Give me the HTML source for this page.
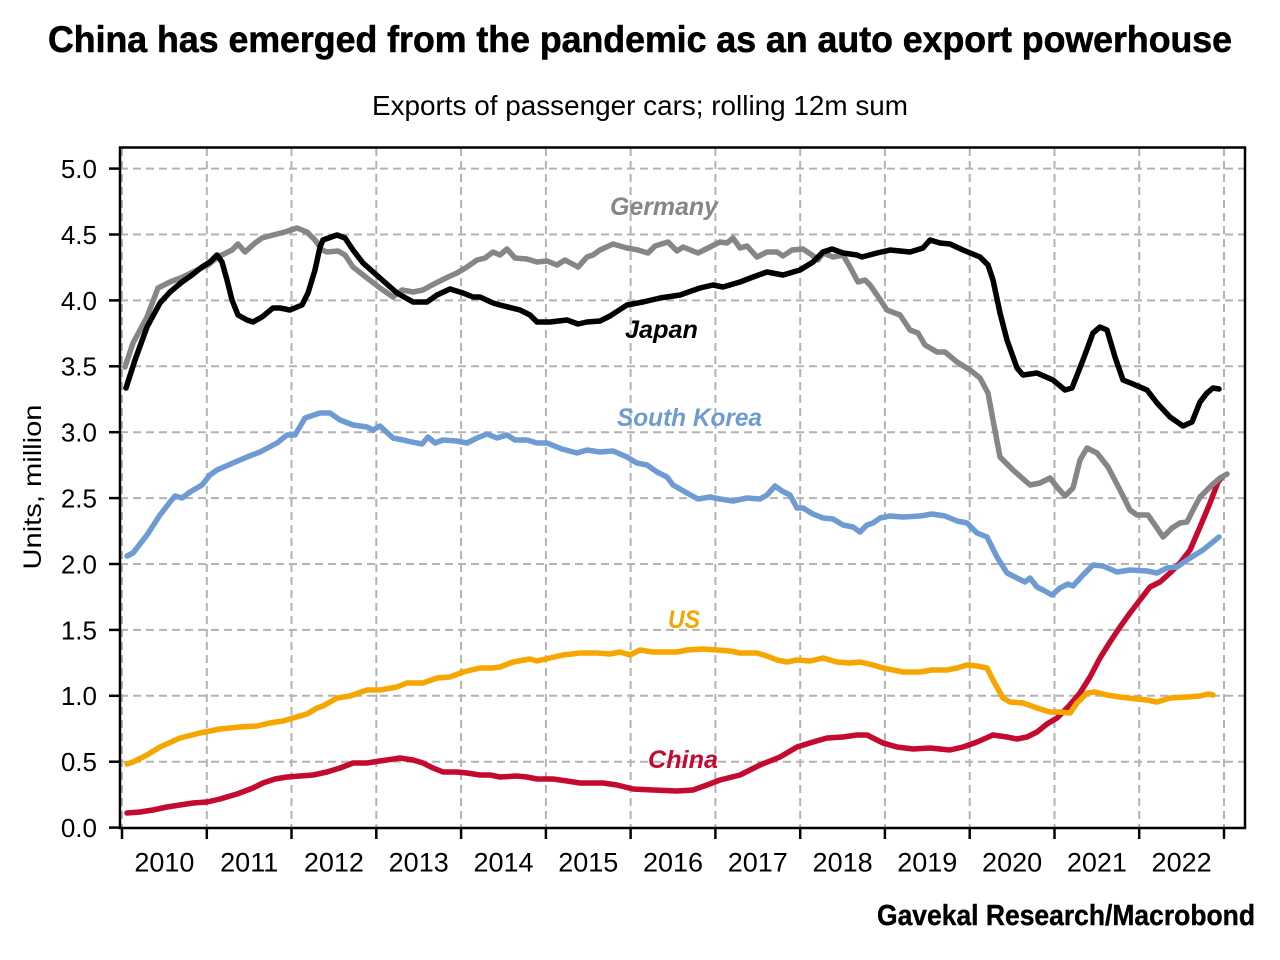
<!DOCTYPE html>
<html>
<head>
<meta charset="utf-8">
<style>
  html, body { margin:0; padding:0; background:#fff; }
  svg { display:block; }
  text { font-family: "Liberation Sans", sans-serif; }
</style>
</head>
<body>
<svg width="1280" height="960" viewBox="0 0 1280 960" xmlns="http://www.w3.org/2000/svg">
  <rect x="0" y="0" width="1280" height="960" fill="#fff"/>

  <!-- Title -->
  <text x="640" y="52" text-anchor="middle" font-size="37" font-weight="bold" textLength="1184" lengthAdjust="spacingAndGlyphs" stroke="#000" stroke-width="0.6">China has emerged from the pandemic as an auto export powerhouse</text>
  <text x="640" y="115" text-anchor="middle" font-size="28" textLength="536" lengthAdjust="spacingAndGlyphs">Exports of passenger cars; rolling 12m sum</text>

  <!-- Grid -->
  <g stroke="#b3b3b3" stroke-width="2" stroke-dasharray="8,5" fill="none">
    <line x1="120" y1="761.7" x2="1245" y2="761.7"/>
    <line x1="120" y1="695.8" x2="1245" y2="695.8"/>
    <line x1="120" y1="629.9" x2="1245" y2="629.9"/>
    <line x1="120" y1="564.0" x2="1245" y2="564.0"/>
    <line x1="120" y1="498.1" x2="1245" y2="498.1"/>
    <line x1="120" y1="432.2" x2="1245" y2="432.2"/>
    <line x1="120" y1="366.3" x2="1245" y2="366.3"/>
    <line x1="120" y1="300.4" x2="1245" y2="300.4"/>
    <line x1="120" y1="234.5" x2="1245" y2="234.5"/>
    <line x1="120" y1="168.6" x2="1245" y2="168.6"/>

    <line x1="122" y1="148" x2="122" y2="828"/>
    <line x1="206.8" y1="148" x2="206.8" y2="828"/>
    <line x1="291.5" y1="148" x2="291.5" y2="828"/>
    <line x1="376.3" y1="148" x2="376.3" y2="828"/>
    <line x1="461.1" y1="148" x2="461.1" y2="828"/>
    <line x1="545.9" y1="148" x2="545.9" y2="828"/>
    <line x1="630.6" y1="148" x2="630.6" y2="828"/>
    <line x1="715.4" y1="148" x2="715.4" y2="828"/>
    <line x1="800.2" y1="148" x2="800.2" y2="828"/>
    <line x1="884.9" y1="148" x2="884.9" y2="828"/>
    <line x1="969.7" y1="148" x2="969.7" y2="828"/>
    <line x1="1054.5" y1="148" x2="1054.5" y2="828"/>
    <line x1="1139.2" y1="148" x2="1139.2" y2="828"/>
    <line x1="1224" y1="148" x2="1224" y2="828"/>
  </g>

  <!-- Frame -->
  <rect x="120" y="147.5" width="1125" height="680.5" fill="none" stroke="#000" stroke-width="2.5"/>

  <!-- Y ticks -->
  <g stroke="#000" stroke-width="2.5">
    <line x1="109" y1="827.6" x2="120" y2="827.6"/>
    <line x1="109" y1="761.7" x2="120" y2="761.7"/>
    <line x1="109" y1="695.8" x2="120" y2="695.8"/>
    <line x1="109" y1="629.9" x2="120" y2="629.9"/>
    <line x1="109" y1="564.0" x2="120" y2="564.0"/>
    <line x1="109" y1="498.1" x2="120" y2="498.1"/>
    <line x1="109" y1="432.2" x2="120" y2="432.2"/>
    <line x1="109" y1="366.3" x2="120" y2="366.3"/>
    <line x1="109" y1="300.4" x2="120" y2="300.4"/>
    <line x1="109" y1="234.5" x2="120" y2="234.5"/>
    <line x1="109" y1="168.6" x2="120" y2="168.6"/>
  </g>
  <!-- X ticks -->
  <g stroke="#000" stroke-width="2.5">
    <line x1="122" y1="828" x2="122" y2="839"/>
    <line x1="206.8" y1="828" x2="206.8" y2="839"/>
    <line x1="291.5" y1="828" x2="291.5" y2="839"/>
    <line x1="376.3" y1="828" x2="376.3" y2="839"/>
    <line x1="461.1" y1="828" x2="461.1" y2="839"/>
    <line x1="545.9" y1="828" x2="545.9" y2="839"/>
    <line x1="630.6" y1="828" x2="630.6" y2="839"/>
    <line x1="715.4" y1="828" x2="715.4" y2="839"/>
    <line x1="800.2" y1="828" x2="800.2" y2="839"/>
    <line x1="884.9" y1="828" x2="884.9" y2="839"/>
    <line x1="969.7" y1="828" x2="969.7" y2="839"/>
    <line x1="1054.5" y1="828" x2="1054.5" y2="839"/>
    <line x1="1139.2" y1="828" x2="1139.2" y2="839"/>
    <line x1="1224" y1="828" x2="1224" y2="839"/>
  </g>

  <!-- Y labels -->
  <g font-size="26" text-anchor="end" fill="#000">
    <text x="97" y="837">0.0</text>
    <text x="97" y="771.1">0.5</text>
    <text x="97" y="705.2">1.0</text>
    <text x="97" y="639.3">1.5</text>
    <text x="97" y="573.4">2.0</text>
    <text x="97" y="507.5">2.5</text>
    <text x="97" y="441.6">3.0</text>
    <text x="97" y="375.7">3.5</text>
    <text x="97" y="309.8">4.0</text>
    <text x="97" y="243.9">4.5</text>
    <text x="97" y="178">5.0</text>
  </g>

  <!-- X labels -->
  <g font-size="27" text-anchor="middle" fill="#000">
    <text x="164.4" y="871.5">2010</text>
    <text x="249.2" y="871.5">2011</text>
    <text x="333.9" y="871.5">2012</text>
    <text x="418.7" y="871.5">2013</text>
    <text x="503.5" y="871.5">2014</text>
    <text x="588.3" y="871.5">2015</text>
    <text x="673" y="871.5">2016</text>
    <text x="757.8" y="871.5">2017</text>
    <text x="842.6" y="871.5">2018</text>
    <text x="927.3" y="871.5">2019</text>
    <text x="1012.1" y="871.5">2020</text>
    <text x="1096.9" y="871.5">2021</text>
    <text x="1181.6" y="871.5">2022</text>
  </g>

  <!-- Y axis title -->
  <text transform="translate(41,487) rotate(-90)" text-anchor="middle" font-size="25" textLength="165" lengthAdjust="spacingAndGlyphs">Units, million</text>

  <!-- Series -->
  <g fill="none" stroke-width="5.5" stroke-linejoin="round" stroke-linecap="round">
    <!-- China -->
    <polyline stroke="#c40a2e" points="127,813 140,812 153,810 167,807 180,805 193,803 207,802 220,799 237,794 253,788 263,783 275,779 287,777 300,776 313,775 327,772 340,768 353,763 367,763 380,761 400,758 413,760 423,763 433,768 443,772 457,772 467,773 480,775 490,775 500,777 517,776 527,777 537,779 553,779 567,781 580,783 603,783 617,785 633,789 653,790 677,791 693,790 707,785 720,780 740,775 760,765 780,757 797,747 813,742 827,738 843,737 857,735 867,735 877,740 883,743 897,747 913,749 930,748 950,750 963,747 977,742 993,735 1007,737 1017,739 1027,737 1037,732 1047,724 1057,718 1068,707 1080,693 1090,677 1100,658 1110,642 1120,627 1130,613 1140,600 1150,587 1160,582 1170,573 1180,563 1190,550 1200,527 1210,503 1218,482 1222,477"/>
    <!-- US -->
    <polyline stroke="#f6a600" points="127,764 133,762 147,755 160,747 180,738 200,733 220,729 240,727 257,726 270,723 283,721 293,718 307,714 317,708 323,706 337,698 350,696 367,690 380,690 397,687 407,683 423,683 437,678 450,677 463,672 480,668 492,668 500,667 513,662 530,659 537,661 550,658 563,655 580,653 597,653 610,654 620,652 630,655 640,650 653,652 663,652 677,652 687,650 703,649 717,650 730,651 740,653 757,653 767,656 777,660 787,662 797,660 810,661 823,658 837,662 850,663 860,662 873,665 883,668 903,672 920,672 932,670 947,670 957,668 967,665 977,666 987,668 993,680 1003,698 1010,702 1023,703 1037,708 1050,712 1060,712 1070,713 1077,703 1087,693 1095,692 1107,695 1120,697 1137,699 1147,700 1157,702 1170,698 1187,697 1200,696 1208,694 1213,695"/>
    <!-- South Korea -->
    <polyline stroke="#6e9cd2" points="127,556 133,553 147,535 160,515 170,502 175,496 182,498 190,492 202,485 210,475 217,470 233,463 247,457 260,452 277,443 287,435 295,435 305,418 320,413 330,413 340,420 353,425 367,427 373,430 380,426 393,438 403,440 412,442 422,444 428,437 435,443 443,440 457,441 467,443 477,438 487,434 497,438 507,435 515,440 527,440 537,443 547,443 562,449 577,453 587,450 600,452 613,451 627,457 637,463 647,465 657,472 667,477 673,485 687,493 698,499 710,497 720,499 733,501 747,498 760,499 767,495 775,486 782,491 790,495 797,508 803,508 813,514 823,518 833,519 843,525 853,527 860,532 867,525 873,523 880,518 890,516 903,517 920,516 932,514 945,516 957,521 967,523 977,533 987,537 997,557 1007,573 1017,578 1025,582 1030,578 1037,587 1043,590 1052,595 1060,588 1068,584 1073,586 1083,575 1093,565 1103,566 1117,572 1130,570 1147,571 1157,573 1167,568 1177,567 1190,558 1203,550 1219,537"/>
    <!-- Germany -->
    <polyline stroke="#868686" points="125,367 133,343 147,317 158,288 170,282 183,277 197,270 208,265 218,257 232,250 238,244 245,252 255,243 262,238 273,235 285,232 297,228 307,232 315,240 322,250 327,252 338,251 345,255 353,267 367,278 380,288 393,297 402,290 413,292 423,290 432,285 438,282 448,277 457,273 467,267 477,260 485,258 493,252 500,255 507,249 515,258 527,259 537,262 547,261 557,265 565,260 578,267 587,257 593,255 600,250 613,244 627,248 638,250 648,253 655,246 668,242 677,251 683,247 698,253 708,248 720,242 727,243 733,238 740,248 747,246 757,257 767,252 777,252 783,256 792,250 803,249 812,255 818,260 823,253 833,257 843,255 850,267 858,282 865,280 870,285 877,295 887,310 900,315 910,330 918,333 925,345 937,352 945,352 957,362 970,370 980,378 988,393 993,420 1000,457 1013,470 1030,485 1040,483 1050,478 1057,487 1065,496 1073,488 1080,460 1087,448 1097,453 1108,467 1120,490 1130,510 1137,515 1148,515 1157,528 1163,537 1172,528 1180,523 1187,522 1193,510 1200,497 1212,485 1220,478 1227,474"/>
    <!-- Japan -->
    <polyline stroke="#000000" points="126,388 135,360 147,327 160,303 170,292 182,282 192,275 202,267 210,262 217,255 222,262 227,280 232,300 238,315 247,320 253,322 262,317 273,308 280,308 290,310 302,305 308,293 315,270 320,247 323,240 337,235 345,238 353,250 363,263 380,278 397,293 413,302 427,302 437,295 450,289 463,293 473,297 480,297 493,303 500,305 520,310 530,315 537,322 550,322 567,320 578,324 587,322 600,321 610,316 627,305 643,302 660,298 680,295 700,288 713,285 723,287 740,282 753,277 767,272 783,275 800,270 813,262 823,252 832,249 843,253 857,255 862,257 877,253 890,250 910,252 923,248 930,240 940,243 950,244 963,250 980,257 988,265 993,280 1000,313 1007,340 1017,368 1023,375 1037,373 1053,380 1065,390 1072,388 1083,360 1093,333 1100,327 1107,330 1115,357 1123,380 1133,384 1147,390 1157,403 1170,417 1183,426 1192,422 1200,402 1207,393 1213,388 1219,389"/>
  </g>

  <!-- Series labels -->
  <g font-size="25" font-weight="bold" font-style="italic">
    <text x="610" y="215" fill="#868686" textLength="108" lengthAdjust="spacingAndGlyphs">Germany</text>
    <text x="625" y="338" fill="#000" textLength="73" lengthAdjust="spacingAndGlyphs">Japan</text>
    <text x="617" y="426" fill="#6e9cd2" textLength="145" lengthAdjust="spacingAndGlyphs">South Korea</text>
    <text x="668" y="628" fill="#f6a600" textLength="32" lengthAdjust="spacingAndGlyphs">US</text>
    <text x="648" y="768" fill="#c40a2e" textLength="70" lengthAdjust="spacingAndGlyphs">China</text>
  </g>

  <!-- Source -->
  <text x="877" y="925" font-size="29" font-weight="bold" textLength="378" lengthAdjust="spacingAndGlyphs" stroke="#000" stroke-width="0.4">Gavekal Research/Macrobond</text>
</svg>
</body>
</html>
